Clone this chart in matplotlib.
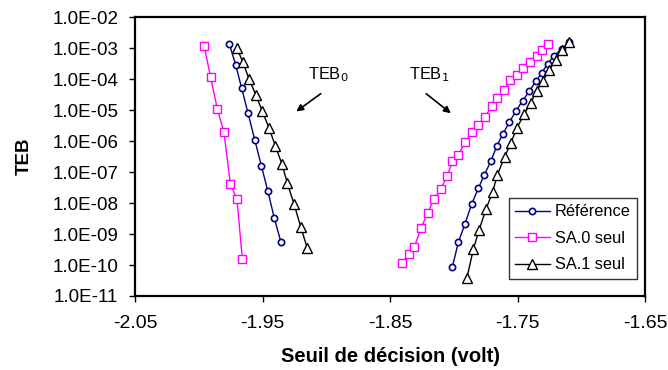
import matplotlib
matplotlib.use('Agg')
import matplotlib.pyplot as plt
from matplotlib.ticker import FixedLocator, FuncFormatter

plt.rcParams['font.family'] = ['Liberation Sans', 'DejaVu Sans']

# Référence (TEB0 puis TEB1)
ref0_x = [-1.9761, -1.9711, -1.9664, -1.9614, -1.9562, -1.9510, -1.9460, -1.9408, -1.9356]
ref0_y = [1.38e-3, 2.83e-4, 5.0e-5, 7.8e-6, 1.10e-6, 1.60e-7, 2.49e-8, 3.21e-9, 5.4e-10]
ref1_x = [-1.8013, -1.7966, -1.7914, -1.7861, -1.7810, -1.7763, -1.7710, -1.7665, -1.7618,
          -1.7567, -1.7514, -1.7462, -1.7410, -1.7357, -1.7313, -1.7266, -1.7216, -1.7156, -1.7099]
ref1_y = [8.8e-11, 5.5e-10, 2.15e-9, 9.5e-9, 2.98e-8, 8.0e-8, 2.32e-7, 6.9e-7, 1.68e-6,
          4.0e-6, 9.5e-6, 2.0e-5, 4.1e-5, 8.6e-5, 1.60e-4, 3.12e-4, 5.65e-4, 9.3e-4, 1.60e-3]

# SA.0 seul
sa0_0x = [-1.9959, -1.9907, -1.9855, -1.9803, -1.9753, -1.9701, -1.9659]
sa0_0y = [1.19e-3, 1.13e-4, 1.08e-5, 1.9e-6, 4.2e-8, 1.3e-8, 1.6e-10]
sa0_1x = [-1.8405, -1.8353, -1.8311, -1.8259, -1.8206, -1.8157, -1.8104, -1.8053, -1.8013,
          -1.7966, -1.7911, -1.7861, -1.7810, -1.7757, -1.7705, -1.7661, -1.7608, -1.7559,
          -1.7509, -1.7457, -1.7404, -1.7352, -1.7308, -1.7261]
sa0_1y = [1.19e-10, 2.32e-10, 3.81e-10, 1.53e-9, 4.86e-9, 1.38e-8, 2.83e-8, 7.6e-8, 2.21e-7,
          3.53e-7, 9.6e-7, 1.91e-6, 3.28e-6, 6.1e-6, 1.35e-5, 2.38e-5, 4.3e-5, 9.3e-5,
          1.35e-4, 2.32e-4, 3.53e-4, 5.5e-4, 8.4e-4, 1.32e-3]

# SA.1 seul
sa1_0x = [-1.9701, -1.9654, -1.9607, -1.9554, -1.9502, -1.9450, -1.9400, -1.9348, -1.9306,
          -1.9254, -1.9201, -1.9150]
sa1_0y = [9.8e-4, 3.46e-4, 1.0e-4, 3.12e-5, 9.1e-6, 2.62e-6, 6.9e-7, 1.77e-7, 4.3e-8,
          9.3e-9, 1.68e-9, 3.46e-10]
sa1_1x = [-1.7900, -1.7849, -1.7804, -1.7749, -1.7697, -1.7661, -1.7603, -1.7556, -1.7509,
          -1.7451, -1.7399, -1.7352, -1.7305, -1.7253, -1.7203, -1.7154, -1.7099]
sa1_1y = [3.7e-11, 3.2e-10, 1.35e-9, 6.4e-9, 2.32e-8, 8.0e-8, 3.12e-7, 8.4e-7, 2.57e-6,
          7.3e-6, 1.72e-5, 4.2e-5, 8.6e-5, 1.95e-4, 4.1e-4, 8.6e-4, 1.60e-3]

xticks = [-2.05, -1.95, -1.85, -1.75, -1.65]
yticks = [1e-11, 1e-10, 1e-9, 1e-8, 1e-7, 1e-6, 1e-5, 1e-4, 1e-3, 1e-2]

fig = plt.figure(figsize=(6.68, 3.70), dpi=100)
ax = fig.add_axes([0.2021, 0.2, 0.7642, 0.754])

blue = '#000080'
pink = '#FF00FF'

ax.plot(ref0_x, ref0_y, color=blue, lw=1, marker='o', ms=4.5, mfc='white', mew=1.2)
ax.plot(ref1_x, ref1_y, color=blue, lw=1, marker='o', ms=4.5, mfc='white', mew=1.2, label='Référence')
ax.plot(sa0_0x, sa0_0y, color=pink, lw=1, marker='s', ms=5.5, mfc='white', mew=1)
ax.plot(sa0_1x, sa0_1y, color=pink, lw=1, marker='s', ms=5.5, mfc='white', mew=1, label='SA.0 seul')
ax.plot(sa1_0x, sa1_0y, color='black', lw=1, marker='^', ms=6.5, mfc='white', mew=1)
ax.plot(sa1_1x, sa1_1y, color='black', lw=1, marker='^', ms=6.5, mfc='white', mew=1, label='SA.1 seul')

ax.set_yscale('log')
ax.set_xlim(-2.05, -1.65)
ax.set_ylim(1e-11, 1e-2)
ax.xaxis.set_major_locator(FixedLocator(xticks))
ax.yaxis.set_major_locator(FixedLocator(yticks))
ax.yaxis.set_minor_locator(FixedLocator([]))
ax.xaxis.set_major_formatter(FuncFormatter(lambda v, p: '%.2f' % v))
ax.yaxis.set_major_formatter(FuncFormatter(lambda v, p: '%.1E' % v))
ax.tick_params(axis='x', labelsize=14, length=4.5, width=1, direction='out', pad=9.5)
ax.tick_params(axis='y', labelsize=13.5, length=4.5, width=1, direction='out', pad=7.5)

for s in ax.spines.values():
    s.set_linewidth(1.6)

ax.set_xlabel('Seuil de décision (volt)', fontsize=14.5, fontweight='bold')
ax.xaxis.set_label_coords(0.5, -0.182)
ax.set_ylabel('TEB', fontsize=13.5, fontweight='bold')
ax.yaxis.set_label_coords(-0.2, 0.5)

ax.annotate('', xy=(-1.9254, 10**-5.10), xytext=(-1.9027, 10**-4.42),
            arrowprops=dict(arrowstyle='-|>', color='black', lw=1.2, mutation_scale=10))
ax.text(-1.9144, 10**-3.87, 'TEB$_0$', fontsize=11.8, ha='left', va='center')
ax.annotate('', xy=(-1.8008, 10**-5.16), xytext=(-1.8235, 10**-4.42),
            arrowprops=dict(arrowstyle='-|>', color='black', lw=1.2, mutation_scale=10))
ax.text(-1.8353, 10**-3.87, 'TEB$_1$', fontsize=11.8, ha='left', va='center')

leg = ax.legend(loc='lower right', fontsize=11.8, fancybox=False, framealpha=1,
                edgecolor='#333333', handlelength=2.1, borderpad=0.4, labelspacing=0.7,
                handletextpad=0.3, borderaxespad=0, bbox_to_anchor=(0.9834, 0.061))
leg.get_frame().set_linewidth(1)

fig.savefig('out.png', dpi=100, facecolor='white')
